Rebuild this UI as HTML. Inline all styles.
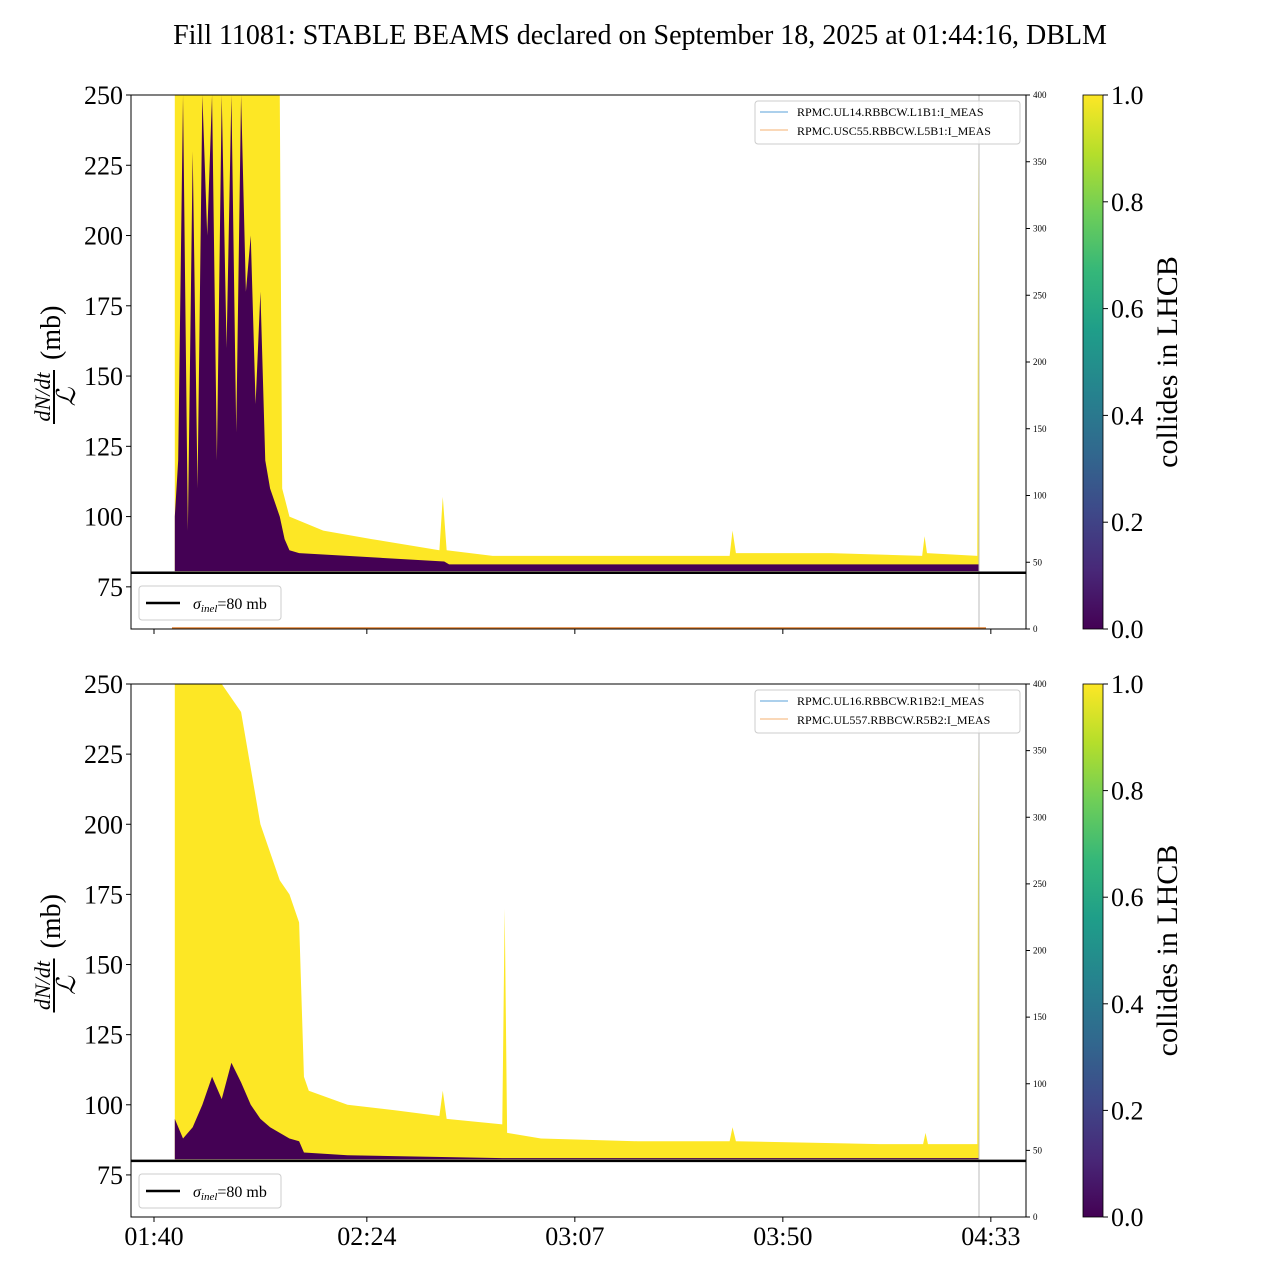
<!DOCTYPE html>
<html><head><meta charset="utf-8"><style>
body{margin:0;background:#fff;}
svg{display:block;font-family:"Liberation Serif",serif;}
</style></head><body>
<svg id="chart" width="1280" height="1280" viewBox="0 0 1280 1280">
<defs>
<linearGradient id="vir" x1="0" y1="1" x2="0" y2="0">
<stop offset="0" stop-color="#440154"/><stop offset="0.11" stop-color="#482878"/><stop offset="0.22" stop-color="#3e4989"/><stop offset="0.33" stop-color="#31688e"/><stop offset="0.44" stop-color="#26828e"/><stop offset="0.56" stop-color="#1f9e89"/><stop offset="0.67" stop-color="#35b779"/><stop offset="0.78" stop-color="#6ece58"/><stop offset="0.89" stop-color="#b5de2b"/><stop offset="1" stop-color="#fde725"/>
</linearGradient>
</defs>
<text x="640" y="44" text-anchor="middle" font-size="28">Fill 11081: STABLE BEAMS declared on September 18, 2025 at 01:44:16, DBLM</text>
<g id="panels"></g>
</svg>
<script>
// minutes after 01:40
const xTickLabels = ["01:40","02:24","03:07","03:50","04:33"];
const xTickMinutes = [0,44,87,130,173];
const yTicks = [75,100,125,150,175,200,225,250];
const rightTicks = [0,50,100,150,200,250,300,350,400];
const cbTicks = ["0.0","0.2","0.4","0.6","0.8","1.0"];
const sigmaInel = 80;

const topYellowT = [4.3,5,26,26.5,28,35,45,59,59.7,60.5,70,90,119,119.6,120.3,140,158.8,159.3,159.8,170.2,170.4,170.6];
const topYellowV = [250,250,250,110,100,95,92,88,107,88,86,86,86,95,87,87,86,93,87,86,230,86];
const topPurpleT = [4.3,5,6,7,8,9,10,11,12,13,14,15,16,17,18,19,20,21,22,23,24,25,26,27,28,30,40,60,61,100,170.5];
const topPurpleV = [100,120,250,95,230,110,250,200,250,120,250,160,250,130,250,180,200,140,180,120,110,105,100,92,88,87,86,84,83,83,83];

const botYellowT = [4.3,5,8,10,14,18,20,22,24,26,28,30,31,32,40,50,59,59.7,60.5,72,72.5,73,80,100,119,119.6,120.3,150,159,159.5,160,170.2,170.4,170.6];
const botYellowV = [250,250,250,250,250,240,220,200,190,180,175,165,110,105,100,98,96,105,95,93,170,90,88,87,87,92,87,86,86,90,86,86,230,85];
const botPurpleT = [4.3,6,8,10,12,14,16,18,20,22,24,26,28,30,31,40,72,170.5];
const botPurpleV = [95,88,92,100,110,102,115,108,100,95,92,90,88,87,83,82,81,81];

const NS="http://www.w3.org/2000/svg";
const root=document.getElementById('panels');
function mk(tag,attrs,parent){const e=document.createElementNS(NS,tag);for(const k in attrs)e.setAttribute(k,attrs[k]);(parent||root).appendChild(e);return e;}
const X0=131,X1=1026;
function xs(m){return 154+(m)*(208/43);}

function panel(top,bottom,yT,yV,pT,pV,names,idx,showX){
  const g=mk('g',{});
  
  
  const ys=v=>bottom-(Math.min(v,250)-60)*(bottom-top)/190;
  const floor=80.6;
  let d='M'+xs(yT[0])+','+ys(floor);
  yT.forEach((t,i)=>{d+=' L'+xs(t)+','+ys(yV[i]);});
  d+=' L'+xs(yT[yT.length-1])+','+ys(floor)+'Z';
  const yp=mk('path',{d:d,fill:'#fde725'},g);
  
  
  let d2='M'+xs(pT[0])+','+ys(floor);
  pT.forEach((t,i)=>{d2+=' L'+xs(t)+','+ys(pV[i]);});
  d2+=' L'+xs(pT[pT.length-1])+','+ys(floor)+'Z';
  const pp=mk('path',{d:d2,fill:'#440154'},g);
  
  
  mk('line',{x1:979,x2:979,y1:top,y2:bottom,stroke:'#bbb','stroke-width':1},g);
  if(idx===1) mk('line',{x1:172,x2:986,y1:bottom-1,y2:bottom-1,stroke:'#e08030','stroke-width':1.5},g);
  const sl=mk('line',{x1:X0,x2:X1,y1:ys(sigmaInel),y2:ys(sigmaInel),stroke:'#000','stroke-width':2.5},g);
  
  
  mk('rect',{x:X0,y:top,width:X1-X0,height:bottom-top,fill:'none',stroke:'#000','stroke-width':1},g);
  yTicks.forEach(v=>{
    mk('line',{x1:X0-5,x2:X0,y1:ys(v),y2:ys(v),stroke:'#000'},g);
    const t=mk('text',{x:X0-8,y:ys(v)+9,'text-anchor':'end','font-size':26},g);t.textContent=v;
    
    
  });
  rightTicks.forEach(v=>{
    const y=bottom-v*(bottom-top)/400;
    mk('line',{x1:X1,x2:X1+4,y1:y,y2:y,stroke:'#000'},g);
    const t=mk('text',{x:X1+7,y:y+3,'font-size':9},g);t.textContent=v;
    
    
  });
  xTickMinutes.forEach((m,i)=>{
    mk('line',{x1:xs(m),x2:xs(m),y1:bottom,y2:bottom+5,stroke:'#000'},g);
    if(showX){const t=mk('text',{x:xs(m),y:bottom+28,'text-anchor':'middle','font-size':26},g);t.textContent=xTickLabels[i];
      
      }
  });
  const cy=(top+bottom)/2;
  const yl=mk('g',{transform:'translate(60,'+cy+') rotate(-90)'},g);
  
  
  const a=mk('text',{x:-35,y:-10,'font-size':22,'font-style':'italic','text-anchor':'middle'},yl);a.textContent='dN/dt';
  mk('line',{x1:-62,x2:-8,y1:-6,y2:-6,stroke:'#000','stroke-width':2},yl);
  const b=mk('text',{x:-35,y:15,'font-size':26,'font-style':'italic','text-anchor':'middle'},yl);b.textContent='ℒ';
  const c=mk('text',{x:2,y:0,'font-size':28},yl);c.textContent='(mb)';
  const lg=mk('g',{},g);
  
  
  mk('rect',{x:755,y:top+6,width:265,height:43,rx:3,fill:'#fff','fill-opacity':0.8,stroke:'#ccc'},lg);
  mk('line',{x1:760,x2:788,y1:top+17,y2:top+17,stroke:'#5aa0d8'},lg);
  mk('line',{x1:760,x2:788,y1:top+35,y2:top+35,stroke:'#f5b070'},lg);
  const l1=mk('text',{x:797,y:top+21,'font-size':12},lg);l1.textContent=names[0];
  const l2=mk('text',{x:797,y:top+40,'font-size':12},lg);l2.textContent=names[1];
  const sg=mk('g',{},g);
  
  
  mk('rect',{x:139,y:bottom-43,width:142,height:34,rx:3,fill:'#fff',stroke:'#ccc'},sg);
  mk('line',{x1:146,x2:180,y1:bottom-26,y2:bottom-26,stroke:'#000','stroke-width':2.5},sg);
  const st=mk('text',{x:193,y:bottom-20,'font-size':16},sg);
  st.innerHTML='<tspan font-style="italic">σ</tspan><tspan font-style="italic" font-size="11" dy="3">inel</tspan><tspan dy="-3">=80 mb</tspan>';
  const cb=mk('g',{},g);
  
  
  mk('rect',{x:1083,y:top,width:20,height:bottom-top,fill:'url(#vir)',stroke:'#000','stroke-width':0.8},cb);
  cbTicks.forEach((v,i)=>{const y=bottom-i*(bottom-top)/5;
    mk('line',{x1:1103,x2:1108,y1:y,y2:y,stroke:'#000'},cb);
    const t=mk('text',{x:1111,y:y+9,'font-size':26},cb);t.textContent=v;});
  const ct=mk('text',{x:0,y:0,'font-size':30,'text-anchor':'middle',transform:'translate(1177,'+(top+bottom)/2+') rotate(-90)'},cb);ct.textContent='collides in LHCB';
}
panel(95,629,topYellowT,topYellowV,topPurpleT,topPurpleV,["RPMC.UL14.RBBCW.L1B1:I_MEAS","RPMC.USC55.RBBCW.L5B1:I_MEAS"],1,false);
panel(684,1217,botYellowT,botYellowV,botPurpleT,botPurpleV,["RPMC.UL16.RBBCW.R1B2:I_MEAS","RPMC.UL557.RBBCW.R5B2:I_MEAS"],2,true);
</script>
</body></html>
